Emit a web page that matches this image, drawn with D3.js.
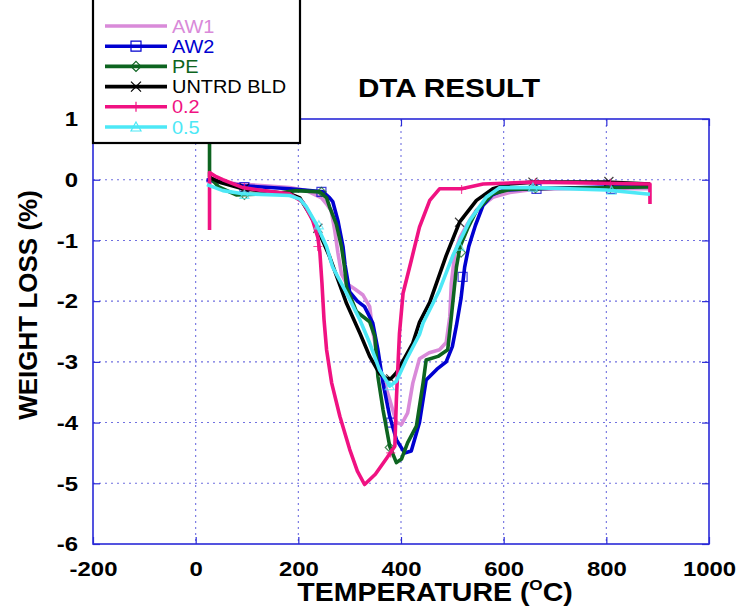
<!DOCTYPE html>
<html>
<head>
<meta charset="utf-8">
<script src="https://cdn.jsdelivr.net/npm/d3@7"></script>
<style>
  body { margin: 0; background: #fff; }
  text { font-family: "Liberation Sans", Arial, sans-serif; }
</style>
</head>
<body>
<svg id="chart"></svg>
<script>
// chart values: [temperature, weight loss]
var xTicks = [-200, 0, 200, 400, 600, 800, 1000];
var yTicks = [-6, -5, -4, -3, -2, -1, 0, 1];
var seriesNames = ["AW1", "AW2", "PE", "UNTRD BLD", "0.2", "0.5"];
var seriesColors = ["#d98ad9", "#0000d0", "#0d6420", "#000000", "#f01282", "#4de8f6"];
var seriesSymbols = [null, "square", "diamond", "cross", "plus", "triangle"];

var aw1 = [[21,-0.02],[86,-0.07],[183,-0.13],[216,-0.18],[245,-0.3],[255,-0.4],[264,-0.51],[271,-0.84],[277,-1.2],[284,-1.55],
  [294,-1.71],[310,-1.8],[326,-1.9],[339,-2.09],[345,-2.5],[358,-3.08],[378,-3.62],[391,-4.0],[401,-4.03],[413,-3.84],
  [423,-3.35],[436,-2.95],[455,-2.85],[475,-2.8],[488,-2.68],[495,-2.26],[498,-1.71],[505,-1.2],[515,-0.95],[530,-0.72],
  [547,-0.5],[579,-0.29],[612,-0.21],[657,-0.16],[750,-0.14],[885,-0.15]];
var aw2 = [[21,0.0],[92,-0.1],[183,-0.15],[222,-0.18],[248,-0.2],[261,-0.3],[267,-0.36],[277,-0.67],[287,-1.1],[291,-1.4],
  [300,-1.85],[315,-2.0],[329,-2.09],[345,-2.36],[355,-2.8],[365,-3.35],[378,-3.9],[391,-4.28],[407,-4.5],[420,-4.47],
  [436,-4.0],[449,-3.3],[470,-3.12],[488,-3.0],[500,-2.75],[508,-2.4],[517,-1.95],[524,-1.44],[532,-1.1],[545,-0.75],
  [560,-0.42],[578,-0.25],[600,-0.17],[657,-0.15],[800,-0.12],[885,-0.1]];
var pe = [[27,0.9],[27,0.05],[45,-0.12],[79,-0.25],[150,-0.23],[196,-0.18],[242,-0.2],[255,-0.3],[261,-0.45],[274,-0.73],
  [284,-1.1],[290,-1.44],[294,-1.77],[313,-2.17],[339,-2.34],[349,-2.58],[355,-3.24],[365,-3.79],[378,-4.39],[391,-4.66],
  [401,-4.6],[413,-4.33],[430,-4.06],[443,-3.35],[449,-2.97],[472,-2.91],[491,-2.8],[498,-2.26],[508,-1.44],[515,-1.1],
  [530,-0.8],[547,-0.51],[579,-0.23],[612,-0.16],[700,-0.14],[885,-0.12]];
var untrd = [[27,0.04],[50,-0.05],[92,-0.15],[183,-0.23],[203,-0.3],[222,-0.56],[238,-0.82],[261,-1.27],[294,-2.04],[320,-2.53],
  [339,-2.91],[358,-3.19],[371,-3.27],[380,-3.28],[391,-3.18],[423,-2.69],[436,-2.35],[456,-2.02],[488,-1.25],[514,-0.7],
  [547,-0.34],[579,-0.15],[612,-0.07],[657,-0.04],[800,-0.04],[885,-0.07]];
var p02 = [[27,-0.83],[27,0.12],[40,0.05],[53,0.0],[92,-0.13],[131,-0.18],[183,-0.23],[209,-0.37],[228,-0.67],[238,-0.95],
  [242,-1.2],[246,-1.7],[250,-2.3],[255,-2.8],[265,-3.35],[281,-3.9],[300,-4.44],[315,-4.8],[329,-5.02],[350,-4.85],
  [371,-4.6],[388,-4.39],[391,-3.62],[397,-2.53],[404,-1.87],[420,-1.33],[436,-0.78],[456,-0.34],[475,-0.15],[518,-0.15],
  [560,-0.07],[657,-0.04],[885,-0.07],[885,-0.4]];
var p05 = [[22,-0.08],[53,-0.18],[92,-0.23],[183,-0.26],[203,-0.32],[216,-0.45],[235,-0.73],[255,-1.1],[267,-1.44],[294,-1.87],
  [320,-2.31],[339,-2.69],[358,-3.13],[378,-3.4],[391,-3.32],[410,-2.97],[436,-2.55],[443,-2.36],[475,-1.82],[501,-1.25],
  [534,-0.67],[566,-0.29],[592,-0.13],[657,-0.13],[800,-0.17],[885,-0.24]];

// marker points
var aw2Marks = [[95,-0.12],[245,-0.2],[381,-4.0],[520,-1.6],[664,-0.15],[810,-0.15]];
var peMarks = [[95,-0.25],[245,-0.2],[378,-4.41],[517,-1.2],[662,-0.14],[808,-0.13]];
var untrdMarks = [[95,-0.14],[238,-0.8],[380,-3.28],[514,-0.7],[657,-0.04],[805,-0.03]];
var p02Marks = [[95,-0.13],[238,-1.1],[380,-4.5],[518,-0.16],[662,-0.05],[808,-0.06]];
var p05Marks = [[95,-0.25],[240,-0.75],[378,-3.4],[514,-1.1],[657,-0.13],[810,-0.18]];

var seriesData = [aw1, aw2, pe, untrd, p02, p05];
var seriesMarks = [[], aw2Marks, peMarks, untrdMarks, p02Marks, p05Marks];

const width = 738, height = 609;
const plotLeft = 93, plotRight = 709, plotTop = 119, plotBottom = 544;
const sx = 1.14; // picture is stretched sideways
const gridColor = "#7070e0", frameColor = "#2a2ad8";

var svg = d3.select("#chart").attr("width", width).attr("height", height);

var x = d3.scaleLinear().domain([-200, 1000]).range([plotLeft, plotRight]);
var y = d3.scaleLinear().domain([-6, 1]).range([plotBottom, plotTop]);

// dotted grid
svg.append("g").selectAll("line").data(xTicks.slice(1, -1)).enter().append("line")
    .attr("x1", d => x(d)).attr("x2", d => x(d)).attr("y1", plotTop).attr("y2", plotBottom)
    .attr("stroke", gridColor).attr("stroke-width", 1.1).attr("stroke-dasharray", "2,4");
svg.append("g").selectAll("line").data(yTicks.slice(1, -1)).enter().append("line")
    .attr("x1", plotLeft).attr("x2", plotRight).attr("y1", d => y(d)).attr("y2", d => y(d))
    .attr("stroke", gridColor).attr("stroke-width", 1.1).attr("stroke-dasharray", "2,4");

// inward ticks on all sides
function tickStyle(g) {
    g.select(".domain").remove();
    g.selectAll("line").attr("stroke", frameColor).attr("stroke-width", 1.2);
    g.selectAll("text").remove();
}
svg.append("g").attr("transform", `translate(0,${plotBottom})`).call(d3.axisBottom(x).tickValues(xTicks).tickSize(-7)).call(tickStyle);
svg.append("g").attr("transform", `translate(0,${plotTop})`).call(d3.axisTop(x).tickValues(xTicks).tickSize(-7)).call(tickStyle);
svg.append("g").attr("transform", `translate(${plotLeft},0)`).call(d3.axisLeft(y).tickValues(yTicks).tickSize(-7)).call(tickStyle);
svg.append("g").attr("transform", `translate(${plotRight},0)`).call(d3.axisRight(y).tickValues(yTicks).tickSize(-7)).call(tickStyle);

svg.append("rect").attr("x", plotLeft).attr("y", plotTop).attr("width", plotRight - plotLeft).attr("height", plotBottom - plotTop)
    .attr("fill", "none").attr("stroke", frameColor).attr("stroke-width", 1.6);

// tick labels (plain hyphen for negatives, as in the picture)
var xAxis = svg.append("g").attr("transform", `translate(0,${plotBottom})`)
    .call(d3.axisBottom(x).tickValues(xTicks).tickSize(0).tickPadding(17).tickFormat(d => String(d)));
var yAxis = svg.append("g").attr("transform", `translate(${plotLeft},0)`)
    .call(d3.axisLeft(y).tickValues(yTicks).tickSize(0).tickPadding(15).tickFormat(d => String(d)));
[xAxis, yAxis].forEach(function(g) {
    g.select(".domain").remove();
    g.selectAll("text").attr("font-family", "'Liberation Sans', Arial, sans-serif")
        .attr("font-size", 21).attr("font-weight", "bold").attr("fill", "#000");
});
xAxis.selectAll("text").attr("transform", `scale(${sx},1)`);
yAxis.selectAll("text").attr("x", -15 / sx).attr("transform", `scale(${sx},1)`);

// lines and markers
var line = d3.line().x(d => x(d[0])).y(d => y(d[1]));

function symbolPath(type, size) {
    var s = size / 2;
    if (type === "square") return `M${-s},${-s}H${s}V${s}H${-s}Z`;
    if (type === "diamond") return `M0,${-s}L${s},0L0,${s}L${-s},0Z`;
    if (type === "cross") return `M${-s},${-s}L${s},${s}M${-s},${s}L${s},${-s}`;
    if (type === "plus") return `M${-s},0H${s}M0,${-s}V${s}`;
    if (type === "triangle") return `M0,${-s}L${s},${s * 0.8}L${-s},${s * 0.8}Z`;
    return "";
}

var plot = svg.append("g");
seriesData.forEach(function(data, i) {
    plot.append("path").datum(data).attr("d", line)
        .attr("fill", "none").attr("stroke", seriesColors[i]).attr("stroke-width", 3.6)
        .attr("stroke-linejoin", "round");
    if (seriesSymbols[i]) {
        plot.append("g").selectAll("path").data(seriesMarks[i]).enter().append("path")
            .attr("transform", d => `translate(${x(d[0])},${y(d[1])})`)
            .attr("d", symbolPath(seriesSymbols[i], 9))
            .attr("fill", "none").attr("stroke", seriesColors[i]).attr("stroke-width", 1.2)
            .attr("opacity", 0.75);
    }
});

// title and axis labels
function stretchedText(tx, ty, str, size) {
    return svg.append("text").attr("transform", `translate(${tx},${ty}) scale(${sx},1)`)
        .attr("text-anchor", "middle").attr("font-size", size).attr("font-weight", "bold")
        .attr("fill", "#000").text(str);
}
stretchedText(449, 97, "DTA RESULT", 26);

var xl = svg.append("text").attr("transform", `translate(435,601) scale(${sx},1)`)
    .attr("text-anchor", "middle").attr("font-size", 25).attr("font-weight", "bold").attr("fill", "#000");
xl.append("tspan").text("TEMPERATURE (");
xl.append("tspan").attr("font-size", 15).attr("dy", -11).text("O");
xl.append("tspan").attr("dy", 11).text("C)");

svg.append("text").attr("transform", "translate(37,305) rotate(-90)")
    .attr("text-anchor", "middle").attr("font-size", 26).attr("font-weight", "bold")
    .attr("fill", "#000").text("WEIGHT LOSS (%)");

// legend
var legend = svg.append("g");
legend.append("rect").attr("x", 93).attr("y", -5).attr("width", 207).attr("height", 148)
    .attr("fill", "#fff").attr("stroke", "#000").attr("stroke-width", 2.2);
seriesNames.forEach(function(name, i) {
    var ly = 26 + i * 20.2;
    legend.append("line").attr("x1", 105).attr("x2", 167).attr("y1", ly).attr("y2", ly)
        .attr("stroke", seriesColors[i]).attr("stroke-width", 3.6);
    if (seriesSymbols[i]) {
        legend.append("path").attr("transform", `translate(136,${ly})`)
            .attr("d", symbolPath(seriesSymbols[i], 10))
            .attr("fill", "none").attr("stroke", seriesColors[i]).attr("stroke-width", 1.2);
    }
    legend.append("text").attr("transform", `translate(172,${ly + 6.5}) scale(${sx},1)`)
        .attr("font-size", 17.5).attr("fill", seriesColors[i]).text(name);
});
</script>
</body>
</html>
